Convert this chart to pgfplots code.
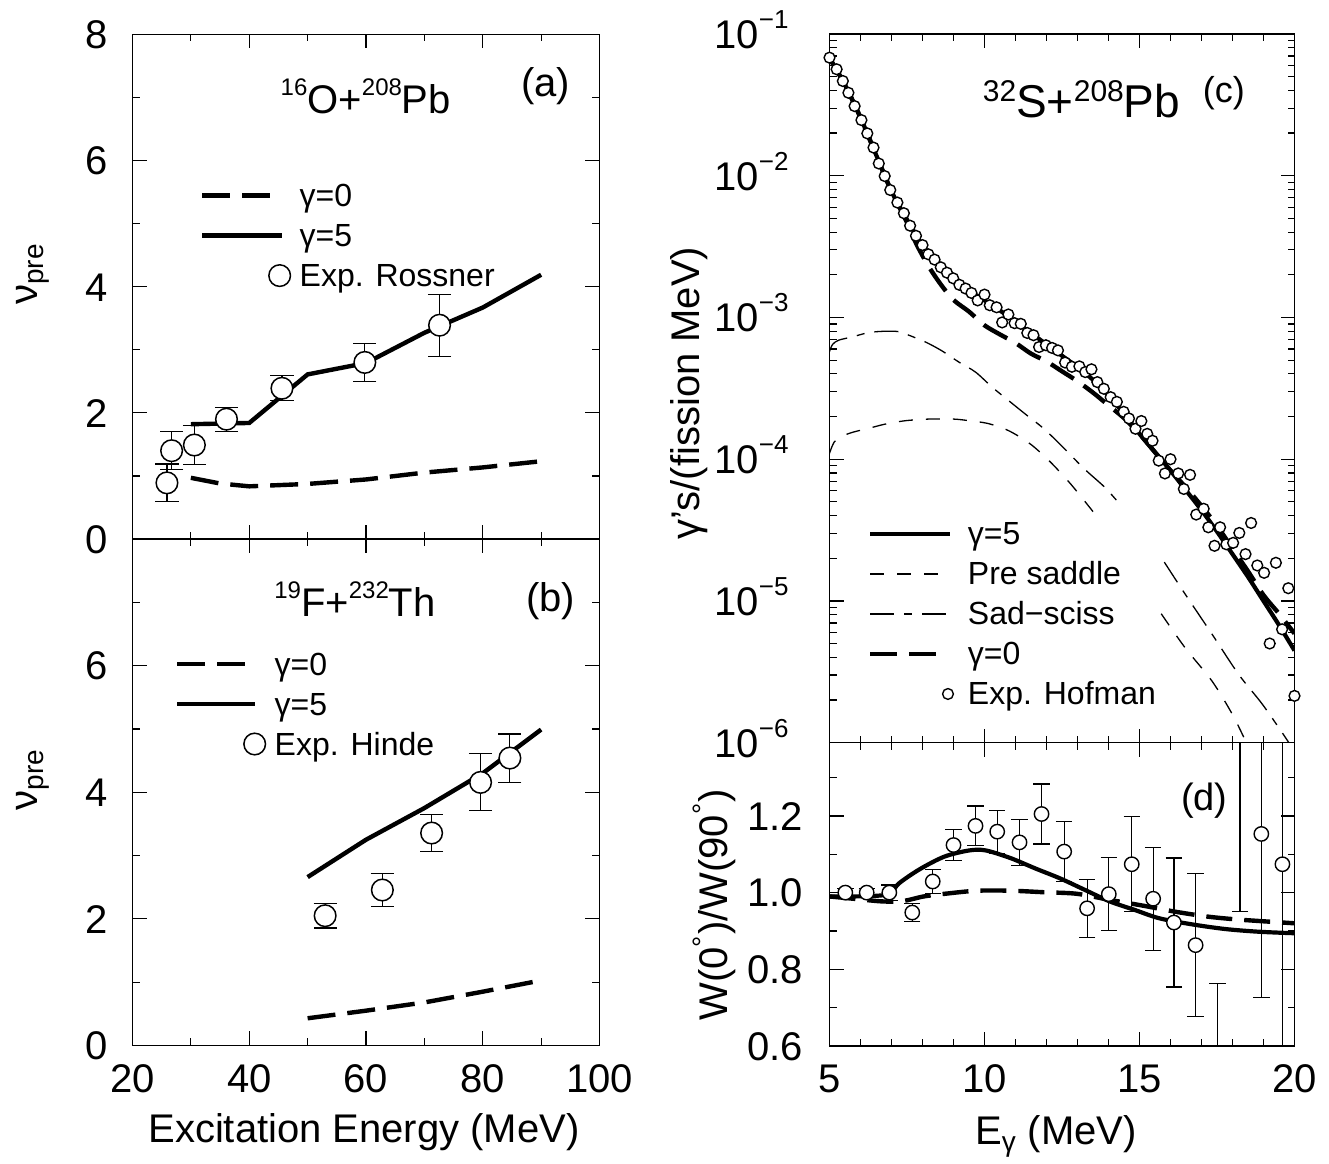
\documentclass[border=0pt]{standalone}
\usepackage{fontspec}
\setmainfont{Liberation Sans}
\usepackage{pgfplots}
\pgfplotsset{compat=1.18}

% raised isotope mass numbers and log tick labels
\newcommand{\iso}[1]{\raisebox{9pt}{\fontsize{12}{12}\selectfont #1}}
\newcommand{\isoc}[1]{\raisebox{8pt}{\fontsize{15}{15}\selectfont #1}}
\newcommand{\tenpow}[1]{10\raisebox{10pt}{\fontsize{13}{13}\selectfont −#1}}

\pgfplotsset{
  panel/.style={
    scale only axis, anchor=south west,
    axis line style={line width=0.75pt},
    tick style={black, line width=0.6pt},
    major tick length=7pt, minor tick length=3.5pt,
    tick align=inside, tick pos=both,
    tick label style={font=\fontsize{20}{24}\selectfont},
    /pgf/number format/assume math mode=true,
    xticklabel style={anchor=base, inner sep=0pt, yshift=-23.5pt},
    yticklabel style={anchor=base east, inner sep=0pt, xshift=-12.25pt, yshift=-7.16pt},
    label style={font=\fontsize{20}{24}\selectfont},
    legend style={draw=none, fill=none, inner sep=0pt, outer sep=0pt,
      font=\fontsize{16}{19}\selectfont, row sep=5pt, column sep=0pt,
      nodes={inner sep=0pt, text height=13pt, text depth=2pt},
      cells={anchor=west}},
  },
  legline/.style={legend image code/.code={%
    \path[draw=none, fill=none] (0pt,-1pt) rectangle (48.75pt,1pt);
    \draw[##1] (0pt,0pt) -- (#1,0pt);}},
  legline/.default=40pt,
  legmark/.style={legend image code/.code={%
    \path[draw=none, fill=none] (0pt,-1pt) rectangle (48.75pt,1pt);
    \draw[##1] plot coordinates {(38.75pt,0pt)};}},
  bigmark/.style={only marks, mark=*, mark size=5.4pt,
    mark options={fill=white, draw=black, line width=0.75pt},
    error bars/.cd, y dir=both, y explicit,
    error bar style={line width=0.6pt},
    error mark options={rotate=90, mark size=5.8pt, line width=0.6pt}},
}

\begin{document}
\begin{tikzpicture}
\useasboundingbox (0,0) rectangle (664.5pt,581.5pt);

% ---------------- (a) ----------------
\begin{axis}[panel, at={(66.25pt,312pt)}, width=233.5pt, height=252.25pt,
  xmin=20, xmax=100, ymin=0, ymax=8,
  xtick={20,40,60,80,100}, minor xtick={30,50,70,90}, xticklabels={},
  ytick={0,2,4,6,8}, minor ytick={1,3,5,7},
  ylabel={ν\textsubscript{pre}},
  ylabel style={at={(axis description cs:-0.2045,0.525)}, anchor=base},
  legend style={at={(axis description cs:0.1445,0.7104)}, anchor=north west},
]
\addplot[line width=2.2pt, dash pattern=on 14pt off 6pt, legline=35pt] coordinates {
  (30,0.97) (35,0.88) (40,0.835) (50,0.873) (60,0.944) (70,1.053) (80,1.135) (90,1.233)};
\addlegendentry{γ=0}
\addplot[line width=2.2pt, legline] coordinates {
  (30,1.82) (40,1.84) (50,2.61) (60,2.79) (70,3.27) (80,3.67) (90,4.19)};
\addlegendentry{γ=5}
\addplot[legmark, bigmark] coordinates {
  (25.9,0.89) +- (0,0.30)
  (26.7,1.40) +- (0,0.30)
  (30.6,1.49) +- (0,0.31)
  (36.1,1.90) +- (0,0.19)
  (45.6,2.39) +- (0,0.20)
  (59.8,2.80) +- (0,0.30)
  (72.6,3.39) +- (0,0.49)};
\addlegendentry{Exp. Rossner}
\node[font=\fontsize{20}{24}\selectfont, anchor=base] at (axis description cs:0.4996,0.843) {\iso{16}O+\iso{208}Pb};
\node[font=\fontsize{20}{24}\selectfont, anchor=base] at (axis description cs:0.885,0.878) {(a)};
\end{axis}

% ---------------- (b) ----------------
\begin{axis}[panel, at={(66.25pt,58.75pt)}, width=233.5pt, height=253.25pt,
  xmin=20, xmax=100, ymin=0, ymax=8,
  xtick={20,40,60,80,100}, minor xtick={30,50,70,90},
  ytick={0,2,4,6}, minor ytick={1,3,5,7},
  ylabel={ν\textsubscript{pre}},
  ylabel style={at={(axis description cs:-0.2045,0.525)}, anchor=base},
  xlabel={Excitation Energy (MeV)},
  xlabel style={at={(axis description cs:0.4957,-0.192)}, anchor=base},
  legend style={at={(axis description cs:0.091,0.7828)}, anchor=north west},
]
\addplot[line width=2.2pt, dash pattern=on 14pt off 6pt, legline=35pt] coordinates {
  (50,0.43) (60,0.55) (70,0.68) (80,0.85) (89,1.01)};
\addlegendentry{γ=0}
\addplot[line width=2.2pt, legline=39pt] coordinates {
  (50,2.66) (60,3.25) (70,3.75) (80,4.30) (90,4.99)};
\addlegendentry{γ=5}
\addplot[legmark, bigmark] coordinates {
  (53.0,2.05) +- (0,0.195)
  (62.8,2.456) +- (0,0.26)
  (71.24,3.356) +- (0,0.29)
  (79.63,4.156) +- (0,0.45)
  (84.65,4.54) +- (0,0.38)};
\addlegendentry{Exp. Hinde}
\node[font=\fontsize{20}{24}\selectfont, anchor=base] at (axis description cs:0.4764,0.847) {\iso{19}F+\iso{232}Th};
\node[font=\fontsize{20}{24}\selectfont, anchor=base] at (axis description cs:0.8957,0.856) {(b)};
\end{axis}

% ---------------- (c) ----------------
\begin{axis}[panel, at={(414.75pt,210.15pt)}, width=232.5pt, height=354.35pt,
  ymode=log, xmin=5, xmax=20, ymin=1e-6, ymax=1e-1,
  xtick={5,10,15,20}, minor xtick={6,7,8,9,11,12,13,14,16,17,18,19}, xticklabels={},
  ytick={1e-6,1e-5,1e-4,1e-3,1e-2,1e-1},
  yticklabels={\tenpow{6},\tenpow{5},\tenpow{4},\tenpow{3},\tenpow{2},\tenpow{1}},
  minor ytick={2e-6,3e-6,4e-6,5e-6,6e-6,7e-6,8e-6,9e-6,
    2e-5,3e-5,4e-5,5e-5,6e-5,7e-5,8e-5,9e-5,
    2e-4,3e-4,4e-4,5e-4,6e-4,7e-4,8e-4,9e-4,
    2e-3,3e-3,4e-3,5e-3,6e-3,7e-3,8e-3,9e-3,
    2e-2,3e-2,4e-2,5e-2,6e-2,7e-2,8e-2,9e-2},
  yticklabel style={xshift=-8pt},
  clip mode=individual,
  ylabel={γ’s/(fission MeV)},
  ylabel style={at={(axis description cs:-0.2806,0.4934)}, anchor=base},
  legend style={at={(axis description cs:0.0834,0.3157)}, anchor=north west},
]
\addplot[line width=2.1pt, smooth, legline] coordinates {
  (5.0,6.76e-2) (5.5,4.37e-2) (6.0,2.57e-2) (6.5,1.41e-2) (7.0,7.76e-3) (7.5,4.90e-3)
  (8.0,3.24e-3) (8.5,2.40e-3) (9.0,1.91e-3) (9.5,1.55e-3) (10.0,1.32e-3) (10.5,1.12e-3)
  (11.0,9.33e-4) (11.5,7.76e-4) (12.0,6.46e-4) (12.5,5.37e-4) (13.0,4.47e-4) (13.5,3.63e-4)
  (14.0,2.82e-4) (14.5,2.09e-4) (15.0,1.51e-4) (15.5,1.12e-4) (16.0,8.32e-5) (16.5,6.03e-5)
  (17.0,4.37e-5) (17.5,3.09e-5) (18.0,2.14e-5) (18.5,1.48e-5) (19.0,1.00e-5) (19.5,6.76e-6)
  (20.0,4.47e-6)};
\addlegendentry{γ=5}
\addplot[line width=0.65pt, smooth, dash pattern=on 7pt off 6.5pt, legline=36pt] coordinates {
  (5.0,1.10e-4) (5.15,1.32e-4) (5.4,1.45e-4) (5.75,1.55e-4) (6.3,1.66e-4) (6.8,1.77e-4)
  (7.45,1.87e-4) (8.2,1.92e-4) (9.0,1.92e-4) (9.5,1.87e-4) (10.1,1.79e-4) (10.7,1.62e-4)
  (11.2,1.41e-4) (11.6,1.22e-4) (12.15,9.44e-5) (12.8,6.61e-5) (13.5,4.27e-5)};
\addlegendentry{Pre saddle}
\addplot[line width=0.65pt, smooth, dash pattern=on 7pt off 6.5pt, forget plot] coordinates {
  (15.7,8.13e-6) (16.47,4.68e-6) (17.34,2.72e-6) (18.0,1.58e-6) (18.45,1.0e-6) (18.6,8.9e-7)};
\addplot[line width=0.65pt, smooth, dash pattern=on 12pt off 5pt on 4pt off 5pt, legline=38pt] coordinates {
  (5.0,5.75e-4) (5.1,6.46e-4) (5.3,6.92e-4) (5.73,7.29e-4) (6.27,7.83e-4) (6.81,8.0e-4)
  (7.24,7.94e-4) (7.56,7.50e-4) (8.1,6.71e-4) (8.63,5.81e-4) (9.17,4.85e-4) (9.71,4.12e-4)
  (10.25,3.22e-4) (10.78,2.59e-4) (11.32,2.08e-4) (11.86,1.68e-4) (12.4,1.30e-4)
  (13.2,8.63e-5) (13.86,6.40e-5) (14.3,5.01e-5)};
\addlegendentry{Sad−sciss}
\addplot[line width=0.65pt, smooth, dash pattern=on 12pt off 5pt on 4pt off 5pt, forget plot] coordinates {
  (15.8,1.88e-5) (16.47,1.12e-5) (17.34,5.83e-6) (18.2,3.03e-6) (18.97,1.86e-6)
  (19.73,1.07e-6) (19.9,9.3e-7)};
\addplot[line width=2.2pt, smooth, dash pattern=on 13.5pt off 6pt, legline=36pt] coordinates {
  (5.0,6.76e-2) (5.5,4.37e-2) (6.0,2.57e-2) (6.5,1.41e-2) (7.0,7.76e-3) (7.5,4.68e-3)
  (7.8,3.31e-3) (8.2,2.29e-3) (8.6,1.70e-3) (9.0,1.33e-3) (9.5,1.10e-3) (10.0,8.81e-4)
  (10.5,7.59e-4) (11.0,6.61e-4) (11.5,5.56e-4) (12.0,4.90e-4) (12.5,4.17e-4) (13.0,3.55e-4)
  (13.5,2.95e-4) (14.0,2.40e-4) (14.5,1.95e-4) (15.0,1.51e-4) (15.5,1.12e-4) (16.0,8.32e-5)
  (16.5,6.31e-5) (17.0,4.68e-5) (17.5,3.39e-5) (18.0,2.34e-5) (18.5,1.62e-5) (19.0,1.10e-5)
  (19.5,8.13e-6) (20.0,5.89e-6)};
\addlegendentry{γ=0}
\addplot[legmark, only marks, mark=*, mark size=2.7pt, mark options={fill=white, draw=black, line width=0.7pt}] coordinates {
  (5.00,6.81e-2) (5.23,5.64e-2) (5.43,4.66e-2) (5.61,3.85e-2) (5.81,3.10e-2) (6.03,2.47e-2)
  (6.22,1.99e-2) (6.42,1.58e-2) (6.59,1.22e-2) (6.78,9.95e-3) (6.96,7.93e-3) (7.19,6.47e-3)
  (7.40,5.44e-3) (7.60,4.44e-3) (7.79,3.77e-3) (8.00,3.24e-3) (8.19,2.79e-3) (8.39,2.56e-3)
  (8.59,2.26e-3) (8.79,2.07e-3) (8.99,1.89e-3) (9.19,1.70e-3) (9.39,1.60e-3) (9.58,1.49e-3)
  (9.78,1.32e-3) (10.00,1.45e-3) (10.17,1.22e-3) (10.39,1.18e-3) (10.57,9.23e-4) (10.77,1.05e-3)
  (10.97,9.12e-4) (11.17,9.02e-4) (11.38,7.78e-4) (11.58,7.50e-4) (11.76,6.19e-4) (11.98,6.37e-4)
  (12.18,6.10e-4) (12.37,5.86e-4) (12.60,4.81e-4) (12.82,4.49e-4) (13.06,4.52e-4) (13.25,4.12e-4)
  (13.45,4.31e-4) (13.64,3.50e-4) (13.85,3.14e-4) (14.07,2.74e-4) (14.27,2.54e-4) (14.49,2.16e-4)
  (14.66,1.94e-4) (14.87,1.64e-4) (15.06,1.86e-4) (15.25,1.51e-4) (15.42,1.35e-4) (15.62,9.77e-5)
  (15.82,7.94e-5) (16.00,1.00e-4) (16.25,7.94e-5) (16.43,6.17e-5) (16.63,7.76e-5) (16.83,4.07e-5)
  (17.07,4.47e-5) (17.22,3.31e-5) (17.42,2.45e-5) (17.60,3.31e-5) (17.80,2.51e-5) (18.02,2.57e-5)
  (18.22,3.02e-5) (18.42,2.14e-5) (18.60,3.55e-5) (18.80,1.78e-5) (19.02,1.58e-5) (19.20,5.01e-6)
  (19.40,1.86e-5) (19.60,6.31e-6) (19.80,1.23e-5) (20.00,2.14e-6)};
\addlegendentry{Exp. Hofman}
\node[font=\fontsize{23}{27}\selectfont, anchor=base] at (axis description cs:0.542,0.8825) {\isoc{32}S+\isoc{208}Pb};
\node[font=\fontsize{18}{22}\selectfont, anchor=base] at (axis description cs:0.848,0.904) {(c)};
\end{axis}

% ---------------- (d) ----------------
\begin{axis}[panel, at={(414.75pt,58.5pt)}, width=232.5pt, height=151.65pt,
  xmin=5, xmax=20, ymin=0.6, ymax=1.391,
  xtick={5,10,15,20}, minor xtick={6,7,8,9,11,12,13,14,16,17,18,19},
  ytick={0.6,0.8,1.0,1.2}, yticklabels={0.6,0.8,1.0,1.2}, minor ytick={0.7,0.9,1.1,1.3},
  yticklabel style={xshift=-0.75pt},
  ylabel={W(0\textsuperscript{°})/W(90\textsuperscript{°})},
  ylabel style={at={(axis description cs:-0.2183,0.465)}, anchor=base},
  xlabel={E\textsubscript{γ} (MeV)},
  xlabel style={at={(axis description cs:0.487,-0.326)}, anchor=base},
]
\addplot[line width=2.1pt, smooth] coordinates {
  (5,0.99) (5.77,0.99) (6.57,0.992) (6.97,0.998) (7.24,1.024) (7.91,1.061) (8.71,1.094)
  (9.51,1.11) (10.04,1.11) (10.84,1.09) (11.64,1.063) (12.44,1.037) (13.24,1.007)
  (14.04,0.977) (14.84,0.955) (15.64,0.933) (16.71,0.917) (17.77,0.905) (18.84,0.898) (20,0.894)};
\addplot[line width=2.2pt, smooth, dash pattern=on 13pt off 6pt] coordinates {
  (5,0.99) (5.77,0.984) (6.71,0.977) (7.37,0.978) (8.04,0.99) (8.84,0.998) (9.77,1.005)
  (10.84,1.005) (11.91,1.001) (12.97,0.997) (14.04,0.981) (15.11,0.966) (16.17,0.95)
  (17.24,0.937) (18.31,0.929) (20,0.92)};
\addplot[only marks, mark=*, mark size=3.6pt, mark options={fill=white, draw=black, line width=0.7pt},
  error bars/.cd, y dir=both, y explicit, error bar style={line width=0.6pt},
  error mark options={rotate=90, mark size=4.1pt, line width=0.6pt}] coordinates {
  (5.51,1.00) +- (0,0.01)
  (6.2,1.00) +- (0,0.01)
  (6.93,1.00) +- (0,0.02)
  (7.67,0.948) +- (0,0.024)
  (8.33,1.029) +- (0,0.032)
  (9.0,1.124) +- (0,0.041)
  (9.71,1.174) +- (0,0.052)
  (10.41,1.159) +- (0,0.056)
  (11.13,1.131) +- (0,0.06)
  (11.84,1.205) +- (0,0.078)
  (12.57,1.107) +- (0,0.078)
  (13.31,0.959) +- (0,0.076)
  (14.01,0.996) +- (0,0.095)
  (14.75,1.074) +- (0,0.124)
  (15.44,0.984) +- (0,0.134)
  (16.11,0.922) +- (0,0.168)
  (16.81,0.863) +- (0,0.187)
  (17.51,0.40) +- (0,0.362)
  (18.24,1.55) +- (0,0.60)
  (18.93,1.153) +- (0,0.427)
  (19.61,1.074) +- (0,0.55)};
\node[font=\fontsize{19}{23}\selectfont, anchor=base] at (axis description cs:0.806,0.778) {(d)};
\end{axis}
\end{tikzpicture}
\end{document}
